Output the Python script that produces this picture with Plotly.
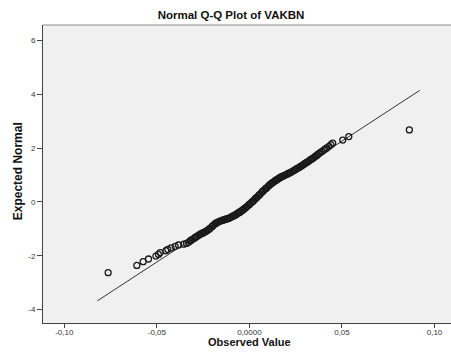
import plotly.graph_objects as go

observed = [
    -0.0763, -0.0608, -0.0574, -0.0545, -0.0505, -0.0491, -0.0482, -0.0451, -0.0441,
    -0.0423, -0.0401, -0.0383, -0.0355, -0.0340, -0.0329, -0.0320, -0.0310, -0.0300,
    -0.0290, -0.0284, -0.0275, -0.0266, -0.0257, -0.0248, -0.0239, -0.0230, -0.0221,
    -0.0212, -0.0203, -0.0194, -0.0185, -0.0176, -0.0167, -0.0158, -0.0149, -0.0140,
    -0.0131, -0.0122, -0.0113, -0.0104, -0.0095, -0.0086, -0.0077, -0.0068, -0.0059,
    -0.0050, -0.0041, -0.0032, -0.0023, -0.0014, -0.0005, 0.0004, 0.0013, 0.0022,
    0.0031, 0.0040, 0.0049, 0.0058, 0.0067, 0.0076, 0.0085, 0.0094, 0.0103, 0.0112,
    0.0121, 0.0130, 0.0139, 0.0148, 0.0157, 0.0166, 0.0180, 0.0193, 0.0207, 0.0220,
    0.0235, 0.0250, 0.0262, 0.0274, 0.0288, 0.0300, 0.0314, 0.0328, 0.0342, 0.0355,
    0.0368, 0.0382, 0.0392, 0.0402, 0.0410, 0.0418, 0.0430, 0.0440, 0.0450, 0.0504,
    0.0537, 0.0864,
    -0.0315, -0.0295, -0.0270, -0.0252, -0.0235, -0.0216, -0.0198, -0.0180, -0.0162,
    -0.0144, -0.0126, -0.0108, -0.0090, -0.0072, -0.0054, -0.0036, -0.0018, 0.0000,
    0.0018, 0.0035, 0.0053, 0.0071, 0.0089, 0.0107, 0.0125, 0.0143, 0.0161, 0.0173,
    0.0187, 0.0200, 0.0213, 0.0228, 0.0243, 0.0256, 0.0268, 0.0281, 0.0294, 0.0307,
    0.0321, 0.0335, 0.0348, 0.0362, 0.0375,
]
expected = [
    -2.63, -2.36, -2.22, -2.12, -2.01, -1.95, -1.88, -1.81, -1.76,
    -1.71, -1.65, -1.60, -1.57, -1.54, -1.50, -1.45, -1.40, -1.36,
    -1.31, -1.28, -1.24, -1.20, -1.17, -1.14, -1.11, -1.07, -1.03,
    -0.98, -0.92, -0.86, -0.81, -0.77, -0.74, -0.71, -0.69, -0.67,
    -0.65, -0.63, -0.61, -0.58, -0.55, -0.52, -0.49, -0.45, -0.41,
    -0.37, -0.33, -0.28, -0.23, -0.17, -0.12, -0.06, -0.01, 0.05,
    0.11, 0.17, 0.23, 0.29, 0.36, 0.42, 0.48, 0.53, 0.59, 0.65,
    0.70, 0.74, 0.79, 0.83, 0.87, 0.91, 0.96, 1.00, 1.05, 1.09,
    1.15, 1.21, 1.26, 1.31, 1.37, 1.43, 1.49, 1.56, 1.62, 1.69,
    1.76, 1.83, 1.88, 1.93, 1.97, 2.01, 2.07, 2.13, 2.19, 2.30,
    2.43, 2.68,
    -1.42, -1.33, -1.22, -1.15, -1.09, -1.00, -0.89, -0.79, -0.72,
    -0.68, -0.64, -0.60, -0.53, -0.47, -0.39, -0.30, -0.20, -0.09,
    0.02, 0.14, 0.26, 0.39, 0.50, 0.62, 0.72, 0.81, 0.89, 0.94,
    0.98, 1.02, 1.07, 1.12, 1.18, 1.24, 1.28, 1.34, 1.40, 1.46,
    1.52, 1.59, 1.65, 1.72, 1.80,
]

# Reference line end points
line_x = [-0.0822, 0.0920]
line_y = [-3.68, 4.15]

x_tickvals = [-0.10, -0.05, 0.0, 0.05, 0.10]
x_ticktext = ["-0,10", "-0,05", "0,0000", "0,05", "0,10"]
y_tickvals = [-4, -2, 0, 2, 4, 6]
y_ticktext = ["-4", "-2", "0", "2", "4", "6"]

title_text = "Normal Q-Q Plot of VAKBN"
x_title = "Observed Value"
y_title = "Expected Normal"

fig = go.Figure()
fig.add_trace(go.Scatter(
    x=line_x, y=line_y, mode="lines",
    line=dict(color="#333333", width=1), hoverinfo="skip", showlegend=False,
))
fig.add_trace(go.Scatter(
    x=observed, y=expected, mode="markers",
    marker=dict(symbol="circle-open", size=6, color="#1a1a1a", line=dict(width=1.3)),
    showlegend=False,
))

font_family = "Liberation Sans, Arial, sans-serif"
fig.update_layout(
    width=451, height=363,
    margin=dict(l=43, r=0, t=25, b=40),
    paper_bgcolor="white",
    plot_bgcolor="#F0F0F0",
    font=dict(family=font_family, color="#333333", size=8),
    title=dict(text="<b>" + title_text + "</b>", x=231 / 451, xanchor="center",
               y=1 - 15 / 363, yanchor="middle", xref="container", yref="container",
               font=dict(size=11.5, color="#111111")),
    xaxis=dict(range=[-0.1115, 0.1089], tickvals=x_tickvals, ticktext=x_ticktext,
               showgrid=False, zeroline=False, showline=True, linecolor="#444444",
               linewidth=1, ticks="outside", ticklen=4, tickcolor="#444444",
               ticklabelstandoff=-3,
               tickfont=dict(size=8, color="#333333")),
    yaxis=dict(range=[-4.5, 6.58], tickvals=y_tickvals, ticktext=y_ticktext,
               showgrid=False, zeroline=False, showline=True, linecolor="#444444",
               linewidth=1, ticks="outside", ticklen=5, tickcolor="#444444",
               tickfont=dict(size=8, color="#333333")),
    shapes=[dict(type="line", xref="paper", yref="paper", x0=0, x1=1, y0=1, y1=1,
                 line=dict(color="#8a8a8a", width=1))],
    annotations=[
        dict(text="<b>" + x_title + "</b>", xref="paper", yref="paper",
             x=(249 - 43) / 408, y=-(343 - 323.5) / 298.5, xanchor="center",
             yanchor="middle", showarrow=False, font=dict(size=11, color="#111111")),
        dict(text="<b>" + y_title + "</b>", xref="paper", yref="paper", textangle=-90,
             x=-(43 - 17.5) / 408, y=(323.5 - 172) / 298.5, xanchor="center",
             yanchor="middle", showarrow=False, font=dict(size=12, color="#111111")),
    ],
)

fig.write_html("out.html")
